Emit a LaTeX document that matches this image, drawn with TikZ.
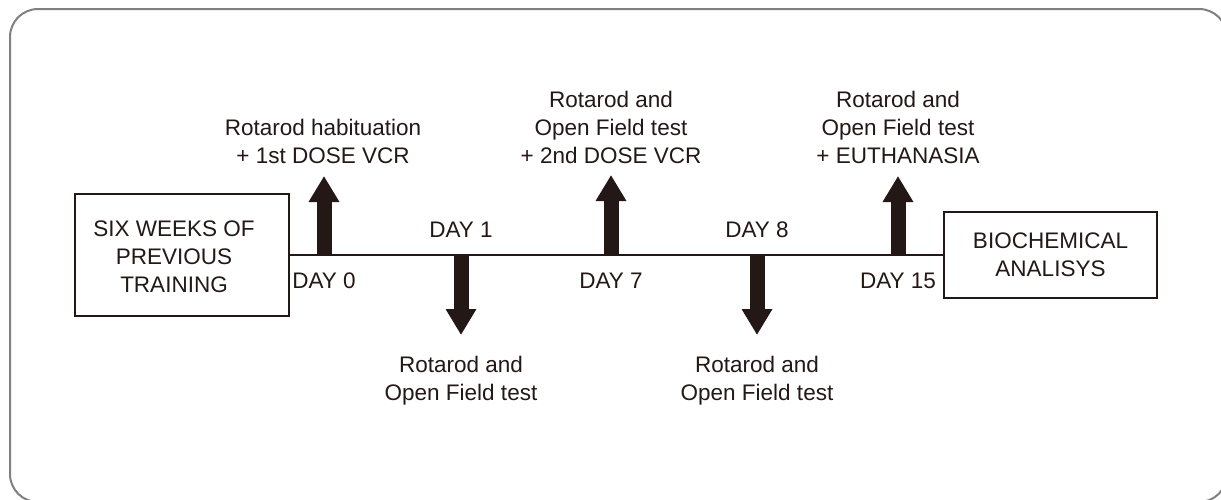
\documentclass[tikz,border=0pt]{standalone}
\usepackage{fontspec}
\setmainfont{Liberation Sans}
\usetikzlibrary{arrows.meta}
\definecolor{ink}{HTML}{231815}
\definecolor{frame}{HTML}{808080}
\begin{document}
\begin{tikzpicture}[x=1pt,y=-1pt,
  lbl/.style={inner sep=0pt,align=center,text=ink,font=\fontsize{22.5}{28}\selectfont},
  boxnode/.style={draw=ink,line width=1.4pt,inner sep=0pt,align=center,text=ink,font=\fontsize{22.5}{28}\selectfont},
  blockarrow/.style={draw=ink,line width=15pt,-{Triangle[width=29pt,length=26pt]}},
  timeline/.style={draw=ink,line width=1.4pt}]
\useasboundingbox (0,0) rectangle (1221,499);
\fill[white] (0,0) rectangle (1221,499);
\draw[frame,line width=2pt,rounded corners=28pt] (10,9) rectangle (1227,502);

\node[boxnode,minimum width=214pt,minimum height=122pt] (six) at (182,255) {};
\node[lbl] (sixtext) at (174,257) {SIX WEEKS OF\\PREVIOUS\\TRAINING};
\node[boxnode,minimum width=213pt,minimum height=86pt] (bio) at (1050.5,255) {BIOCHEMICAL\\ANALISYS};
\draw[timeline] (six.east) -- (bio.west);

\coordinate (d0) at (324,255);
\coordinate (d1) at (461,255);
\coordinate (d7) at (611,255);
\coordinate (d8) at (757,255);
\coordinate (d15) at (898,255);

\coordinate (t0) at (324,176);
\coordinate (t1) at (461,335);
\coordinate (t7) at (611,175);
\coordinate (t8) at (757,335);
\coordinate (t15) at (898,176);

\draw[blockarrow] (d0) -- (t0);
\draw[blockarrow] (d1) -- (t1);
\draw[blockarrow] (d7) -- (t7);
\draw[blockarrow] (d8) -- (t8);
\draw[blockarrow] (d15) -- (t15);

\node[lbl] (l0) at (323,141) {Rotarod habituation\\+ 1st DOSE VCR};
\node[lbl] (l7) at (611,127) {Rotarod and\\Open Field test\\+ 2nd DOSE VCR};
\node[lbl] (l15) at (898,127) {Rotarod and\\Open Field test\\+ EUTHANASIA};
\node[lbl] (l1) at (461,381) {Rotarod and\\Open Field test};
\node[lbl] (l8) at (757,381) {Rotarod and\\Open Field test};

\node[lbl] (day0) at (324,281) {DAY 0};
\node[lbl] (day1) at (461,230) {DAY 1};
\node[lbl] (day7) at (611,281) {DAY 7};
\node[lbl] (day8) at (757,230) {DAY 8};
\node[lbl] (day15) at (898,281) {DAY 15};
\end{tikzpicture}
\end{document}
